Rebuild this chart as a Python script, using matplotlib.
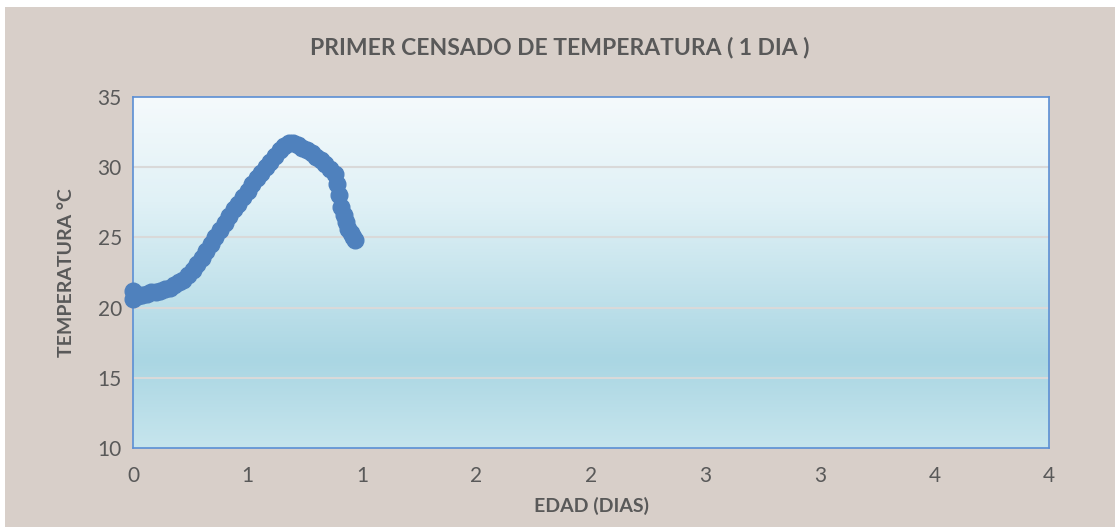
import numpy as np
import matplotlib
matplotlib.use("Agg")
import matplotlib.pyplot as plt
from matplotlib.colors import LinearSegmentedColormap
from matplotlib.patches import Rectangle

# Data (age in days, temperature in °C)
edad = [0.000, 0.000, 0.02, 0.04, 0.06, 0.08, 0.10, 0.12, 0.14, 0.16, 0.18,
        0.20, 0.22, 0.24, 0.26, 0.28, 0.30, 0.32, 0.34, 0.36, 0.38, 0.40,
        0.42, 0.44, 0.46, 0.48, 0.50, 0.52, 0.54, 0.56, 0.58, 0.60, 0.62,
        0.64, 0.66, 0.68, 0.70, 0.72, 0.74, 0.76, 0.78, 0.80, 0.82, 0.84,
        0.86, 0.88, 0.89, 0.90, 0.91, 0.92, 0.93, 0.94, 0.95, 0.96, 0.97]
temperatura = [21.2, 20.6, 20.8, 20.9, 21.0, 21.1, 21.1, 21.2, 21.3, 21.4, 21.6,
               21.8, 22.0, 22.3, 22.7, 23.1, 23.5, 24.0, 24.5, 25.0, 25.5, 26.0,
               26.5, 27.0, 27.4, 27.9, 28.3, 28.8, 29.2, 29.6, 30.0, 30.4, 30.8,
               31.2, 31.5, 31.7, 31.7, 31.6, 31.4, 31.2, 31.0, 30.7, 30.5, 30.2,
               29.9, 29.5, 28.8, 28.0, 27.2, 26.6, 26.1, 25.6, 25.3, 25.0, 24.8]

x_ticks = [0, 0.5, 1.0, 1.5, 2.0, 2.5, 3.0, 3.5, 4.0]
x_tick_labels = ["0", "1", "1", "2", "2", "3", "3", "4", "4"]
y_ticks = [10, 15, 20, 25, 30, 35]

title = "PRIMER CENSADO DE TEMPERATURA ( 1 DIA )"
xlabel = "EDAD (DIAS)"
ylabel = "TEMPERATURA °C"

plt.rcParams['font.family'] = ['Lato', 'DejaVu Sans']

W, H = 1115, 527
fig = plt.figure(figsize=(W / 100, H / 100), dpi=100)
fig.patch.set_facecolor('white')
bg = Rectangle((5 / W, 0), 1 - 5 / W, 1 - 7 / H, transform=fig.transFigure,
               facecolor='#d8cfc9', edgecolor='none', zorder=-10)
fig.add_artist(bg)

left, right, top, bottom = 133, 1049, 97, 448
ax = fig.add_axes([left / W, 1 - bottom / H, (right - left) / W, (bottom - top) / H])
ax.set_zorder(1)
ax.set_xlim(0, 4)
ax.set_ylim(10, 35)

# gradient background
cmap = LinearSegmentedColormap.from_list(
    'grad', [(0.0, '#f5fafc'), (0.3, '#e0f1f6'), (0.75, '#aad6e3'), (1.0, '#c6e5ed')])
grad = np.linspace(0, 1, 256).reshape(-1, 1)
ax.imshow(grad, aspect='auto', cmap=cmap, extent=[0, 1, 0, 1],
          transform=ax.transAxes, zorder=0, origin='upper')

for yv in y_ticks[1:-1]:
    ax.axhline(yv, color='#d9d9d9', lw=1.5, zorder=1)

ax.plot(edad, temperatura, color='#4f81bd', lw=9, marker='o', markersize=12,
        solid_capstyle='round', solid_joinstyle='round', zorder=3, clip_on=False)

for s in ax.spines.values():
    s.set_color('#5b8fd4')
    s.set_linewidth(1.2)

ax.set_xticks(x_ticks)
ax.set_xticklabels(x_tick_labels)
ax.set_yticks(y_ticks)
ax.tick_params(axis='both', length=0, labelsize=15, colors='#595959')
ax.tick_params(axis='x', pad=13)
ax.tick_params(axis='y', pad=8)

ax.set_xlabel(xlabel, fontsize=14, fontweight='bold', color='#595959', labelpad=8)
ax.set_ylabel(ylabel, fontsize=14, fontweight='bold', color='#595959', labelpad=16)
fig.text(560 / W, 1 - 48 / H, title, ha='center', va='center',
         fontsize=16.5, fontweight='bold', color='#595959')

fig.savefig('out.png', dpi=100, facecolor=fig.get_facecolor())
